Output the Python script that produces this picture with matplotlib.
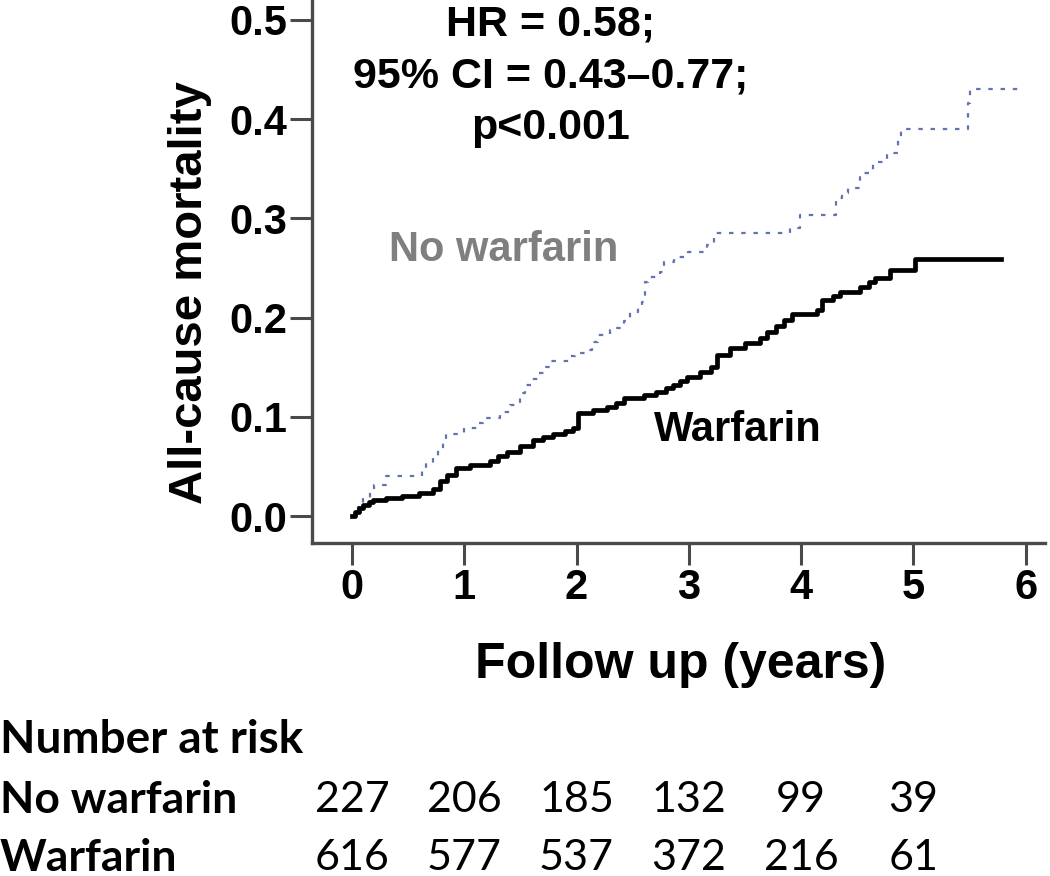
import matplotlib
matplotlib.use("Agg")
import matplotlib.pyplot as plt
import matplotlib.transforms as mtransforms

# Kaplan-Meier style cumulative mortality
no_warf_t = [0, 0.05, 0.10, 0.16, 0.20, 0.30, 0.62, 0.66, 0.72, 0.77, 0.81, 0.84,
             1.00, 1.12, 1.17, 1.32, 1.41, 1.45, 1.50, 1.54, 1.60, 1.66, 1.72, 1.76,
             1.94, 1.99, 2.10, 2.14, 2.19, 2.30, 2.34, 2.42, 2.48, 2.55, 2.58, 2.61,
             2.64, 2.74, 2.78, 2.87, 2.99, 3.16, 3.22, 3.90, 3.99, 4.31, 4.36, 4.42,
             4.52, 4.64, 4.76, 4.86, 4.89, 5.49, 5.50, 5.96]
no_warf_m = [0, 0.009, 0.018, 0.026, 0.031, 0.040, 0.047, 0.053, 0.060, 0.067, 0.075, 0.083,
             0.089, 0.094, 0.099, 0.105, 0.112, 0.115, 0.124, 0.132, 0.138, 0.144, 0.150, 0.156,
             0.161, 0.164, 0.167, 0.175, 0.182, 0.187, 0.189, 0.197, 0.206, 0.212, 0.216, 0.236,
             0.241, 0.246, 0.256, 0.261, 0.266, 0.273, 0.285, 0.290, 0.303, 0.320, 0.326, 0.331,
             0.346, 0.357, 0.366, 0.379, 0.390, 0.416, 0.430, 0.430]

warf_t = [0, 0.03, 0.06, 0.10, 0.15, 0.19, 0.30, 0.45, 0.60, 0.72, 0.78, 0.85, 0.93,
          1.05, 1.23, 1.30, 1.38, 1.50, 1.61, 1.70, 1.79, 1.90, 1.97, 2.01, 2.15,
          2.27, 2.35, 2.42, 2.60, 2.71, 2.80, 2.86, 2.92, 2.98, 3.10, 3.20, 3.25,
          3.37, 3.50, 3.63, 3.70, 3.78, 3.85, 3.92, 4.14, 4.19, 4.28, 4.35, 4.52,
          4.60, 4.66, 4.79, 5.01, 5.78]
warf_m = [0, 0.004, 0.008, 0.011, 0.014, 0.016, 0.018, 0.020, 0.023, 0.027, 0.035, 0.041, 0.048,
          0.051, 0.055, 0.060, 0.065, 0.071, 0.077, 0.080, 0.083, 0.086, 0.089, 0.104, 0.107,
          0.110, 0.114, 0.119, 0.122, 0.125, 0.129, 0.132, 0.136, 0.140, 0.145, 0.150, 0.162,
          0.169, 0.174, 0.179, 0.185, 0.191, 0.198, 0.204, 0.208, 0.218, 0.222, 0.226, 0.231,
          0.236, 0.240, 0.248, 0.259, 0.259]

risk_years = [0, 1, 2, 3, 4, 5]
risk_no_warf = [227, 206, 185, 132, 99, 39]
risk_warf = [616, 577, 537, 372, 216, 61]

x_ticks = [0, 1, 2, 3, 4, 5, 6]
y_ticks = [0.0, 0.1, 0.2, 0.3, 0.4, 0.5]

ARIAL = "Liberation Sans"
TABLE = "Lato"
AXCOL = "#4a4a4a"

fig = plt.figure(figsize=(10.5, 8.76), dpi=100)
ax = fig.add_axes([0.2971, 0.3801, 0.698, 0.6199])

ax.step(no_warf_t, no_warf_m, where="post", color="#6373b2", lw=1.6,
        linestyle=(0, (2, 3.5)))
ax.step(warf_t, warf_m, where="post", color="black", lw=3.4)

ax.set_xlim(-0.356, 6.17)
ax.set_ylim(-0.0272, 0.520)
ax.set_xticks(x_ticks)
ax.set_yticks(y_ticks)
ax.set_yticklabels([f"{v:.1f}" for v in y_ticks])

for side in ("top", "right"):
    ax.spines[side].set_visible(False)
for side in ("left", "bottom"):
    ax.spines[side].set_color(AXCOL)
    ax.spines[side].set_linewidth(2.4)
ax.tick_params(axis="both", direction="out", length=16, width=2.2, color=AXCOL,
               pad=2, labelsize=30)
for lab in ax.get_xticklabels() + ax.get_yticklabels():
    lab.set_fontfamily(ARIAL)
    lab.set_fontweight("bold")

fig.text(190 / 1050, 1 - 293 / 876, "All-cause mortality", rotation=90,
         ha="center", va="center", fontsize=34, fontweight="bold", family=ARIAL)
fig.text(681 / 1050, 1 - 665 / 876, "Follow up (years)", ha="center", va="center",
         fontsize=36, fontweight="bold", family=ARIAL)

# annotations inside the plot
fig.text(551 / 1050, 1 - 76 / 876, "HR = 0.58;\n95% CI = 0.43\u20130.77;\np<0.001",
         ha="center", va="center", fontsize=31, fontweight="bold", family=ARIAL,
         linespacing=1.38)
ax.text(1.35, 0.268, "No warfarin", ha="center", va="center", fontsize=30,
        fontweight="bold", color="#7f7f7f", family=ARIAL)
ax.text(3.44, 0.087, "Warfarin", ha="center", va="center", fontsize=30,
        fontweight="bold", color="black", family=ARIAL)

# number at risk table
trans = mtransforms.blended_transform_factory(ax.transData, fig.transFigure)
row_y = [1 - 800 / 876, 1 - 858 / 876]
fig.text(0.0, 1 - 740 / 876, "Number at risk", ha="left", va="center",
         fontsize=33, fontweight="bold", family=TABLE)
for label, counts, yy in zip(["No warfarin", "Warfarin"], [risk_no_warf, risk_warf], row_y):
    fig.text(0.0, yy, label, ha="left", va="center", fontsize=32,
             fontweight="bold", family=TABLE)
    for yr, n in zip(risk_years, counts):
        ax.text(yr, yy, str(n), transform=trans, ha="center", va="center",
                fontsize=31, family=TABLE, clip_on=False)

fig.savefig("out.png", dpi=100)
